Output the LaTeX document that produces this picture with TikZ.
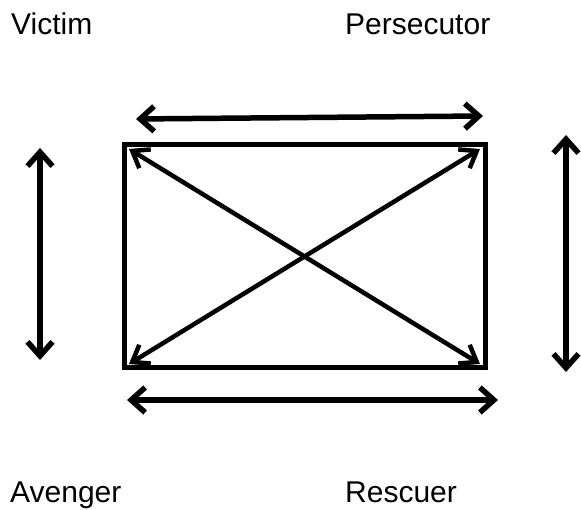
\documentclass[tikz,border=0pt]{standalone}
\usepackage{fontspec}
\setmainfont{Liberation Sans}
\usetikzlibrary{arrows.meta}
\begin{document}
\begin{tikzpicture}[x=1pt,y=1pt,
  lbl/.style={inner sep=0pt,anchor=base west,font=\fontsize{30}{36}\selectfont},
  bigarrow/.style={line width=5.5pt,{Straight Barb[length=14pt,width=25pt]}-{Straight Barb[length=14pt,width=25pt]}},
  diagarrow/.style={line width=4.5pt,{Straight Barb[length=15pt,width=22pt]}-{Straight Barb[length=15pt,width=22pt]}},
  boxline/.style={line width=5pt,line join=miter}]
\useasboundingbox (0,0) rectangle (581,510);
\node[lbl] (victim) at (11,475) {Victim};
\node[lbl] (persecutor) at (345,475) {Persecutor};
\node[lbl] (avenger) at (10,7) {Avenger};
\node[lbl] (rescuer) at (345,7) {Rescuer};
% rectangle corners
\coordinate (tl) at (124,365);
\coordinate (tr) at (485,365);
\coordinate (bl) at (124,142);
\coordinate (br) at (485,142);
\draw[boxline] (tl) -- (tr) -- (br) -- (bl) -- cycle;
\coordinate (dtl) at (129,361);
\coordinate (dtr) at (480,361);
\coordinate (dbl) at (129,146);
\coordinate (dbr) at (480,146);
\draw[diagarrow] (dtl) -- (dbr);
\draw[diagarrow] (dbl) -- (dtr);
% outer arrows
\coordinate (t1) at (136,391);
\coordinate (t2) at (483,394);
\coordinate (b1) at (127,110);
\coordinate (b2) at (498,110);
\coordinate (l1) at (40,362);
\coordinate (l2) at (40,150);
\coordinate (r1) at (566,375);
\coordinate (r2) at (566,138);
\draw[bigarrow] (t1) -- (t2);
\draw[bigarrow] (b1) -- (b2);
\draw[bigarrow] (l1) -- (l2);
\draw[bigarrow] (r1) -- (r2);
\end{tikzpicture}
\end{document}
